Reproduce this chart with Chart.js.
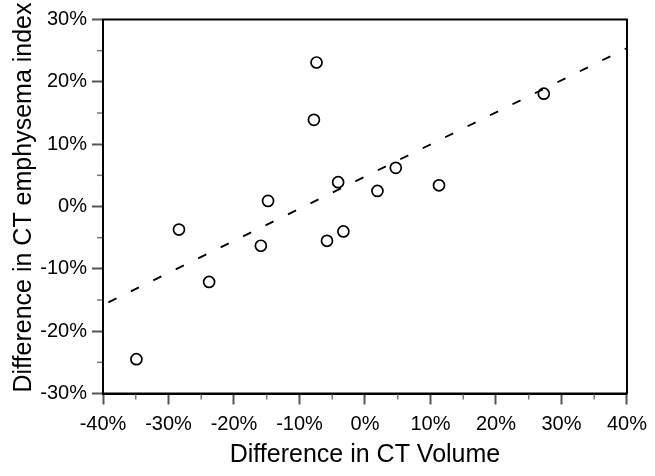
<!DOCTYPE html>
<html>
<head>
<meta charset="utf-8">
<script src="https://cdn.jsdelivr.net/npm/chart.js@4/dist/chart.umd.min.js"></script>
<style>
  html, body { margin: 0; padding: 0; background: #fff; }
  #wrap { width: 655px; height: 476px; position: relative; }
</style>
</head>
<body>
<div id="wrap"><canvas id="c"></canvas></div>
<script>
// ---- data (percent) ----
const volumeDiff    = [-34.9, -28.4, -23.8, -15.9, -14.8, -7.8, -7.4, -5.8, -4.1, -3.3, 1.9, 4.7, 11.3, 27.3];
const emphysemaDiff = [-24.5, -3.7, -12.1, -6.3, 0.9, 13.9, 23.1, -5.5, 3.9, -4.0, 2.5, 6.2, 3.4, 18.1];
const fitX = [-40, 40];
const fitY = [-15.8, 25.4];
const xTickValues = [-40, -30, -20, -10, 0, 10, 20, 30, 40];
const yTickValues = [-30, -20, -10, 0, 10, 20, 30];
const xTitle = 'Difference in CT Volume';
const yTitle = 'Difference in CT emphysema index';

const FONT = "'Liberation Sans', Arial, Helvetica, sans-serif";

const framePlugin = {
  id: 'frameAndMinor',
  afterDraw(chart) {
    const ctx = chart.ctx;
    const a = chart.chartArea;
    const xs = chart.scales.x, ys = chart.scales.y;
    ctx.save();
    // minor ticks
    ctx.strokeStyle = '#777';
    ctx.lineWidth = 1.5;
    for (let i = 0; i < xTickValues.length - 1; i++) {
      const v = (xTickValues[i] + xTickValues[i + 1]) / 2;
      const px = xs.getPixelForValue(v);
      ctx.beginPath(); ctx.moveTo(px, a.bottom); ctx.lineTo(px, a.bottom + 6); ctx.stroke();
    }
    for (let i = 0; i < yTickValues.length - 1; i++) {
      const v = (yTickValues[i] + yTickValues[i + 1]) / 2;
      const py = ys.getPixelForValue(v);
      ctx.beginPath(); ctx.moveTo(a.left, py); ctx.lineTo(a.left - 6, py); ctx.stroke();
    }
    // frame
    ctx.strokeStyle = '#000';
    ctx.lineWidth = 2;
    ctx.strokeRect(a.left, a.top, a.right - a.left, a.bottom - a.top);
    // y title
    ctx.fillStyle = '#000';
    ctx.font = '25px ' + FONT;
    ctx.textAlign = 'center';
    ctx.textBaseline = 'alphabetic';
    ctx.translate(30.5, 197.5);
    ctx.rotate(-Math.PI / 2);
    ctx.fillText(yTitle, 0, 0);
    ctx.restore();
  }
};

new Chart(document.getElementById('c'), {
  type: 'scatter',
  data: {
    datasets: [
      {
        label: 'Patients',
        data: volumeDiff.map((v, i) => ({ x: v, y: emphysemaDiff[i] })),
        pointRadius: 5.5,
        pointHoverRadius: 5.5,
        pointBorderWidth: 1.7,
        borderColor: '#000',
        backgroundColor: 'rgba(0,0,0,0)',
        pointBackgroundColor: 'rgba(0,0,0,0)',
        order: 0
      },
      {
        type: 'line',
        label: 'Fit',
        data: fitX.map((v, i) => ({ x: v, y: fitY[i] })),
        borderColor: '#000',
        borderWidth: 1.8,
        borderDash: [9, 16],
        borderDashOffset: 19,
        pointRadius: 0,
        fill: false,
        order: 1
      }
    ]
  },
  options: {
    responsive: true,
    maintainAspectRatio: false,
    animation: false,
    devicePixelRatio: 1,
    layout: { padding: { top: 19.5, right: 28, left: 0, bottom: 0 } },
    plugins: { legend: { display: false }, tooltip: { enabled: false } },
    scales: {
      x: {
        type: 'linear',
        min: -40, max: 40,
        afterBuildTicks: (s) => { s.ticks = xTickValues.map(v => ({ value: v })); },
        afterFit: (s) => { s.height = 82.5; },
        ticks: {
          callback: (v) => v + '%',
          color: '#000',
          font: { family: FONT, size: 20 },
          padding: 8,
          maxRotation: 0
        },
        grid: { drawOnChartArea: false, drawTicks: true, tickLength: 11, tickColor: '#555', tickWidth: 2 },
        border: { color: '#000', width: 2 },
        title: {
          display: true,
          text: xTitle,
          color: '#000',
          font: { family: FONT, size: 25 },
          padding: { top: 0, bottom: 6 }
        }
      },
      y: {
        type: 'linear',
        min: -30, max: 30,
        afterBuildTicks: (s) => { s.ticks = yTickValues.map(v => ({ value: v })); },
        afterFit: (s) => { s.width = 103; },
        ticks: {
          callback: (v) => v + '%',
          color: '#000',
          font: { family: FONT, size: 20 },
          padding: 5
        },
        grid: { drawOnChartArea: false, drawTicks: true, tickLength: 11, tickColor: '#555', tickWidth: 2 },
        border: { color: '#000', width: 2 }
      }
    }
  },
  plugins: [framePlugin]
});
</script>
</body>
</html>
